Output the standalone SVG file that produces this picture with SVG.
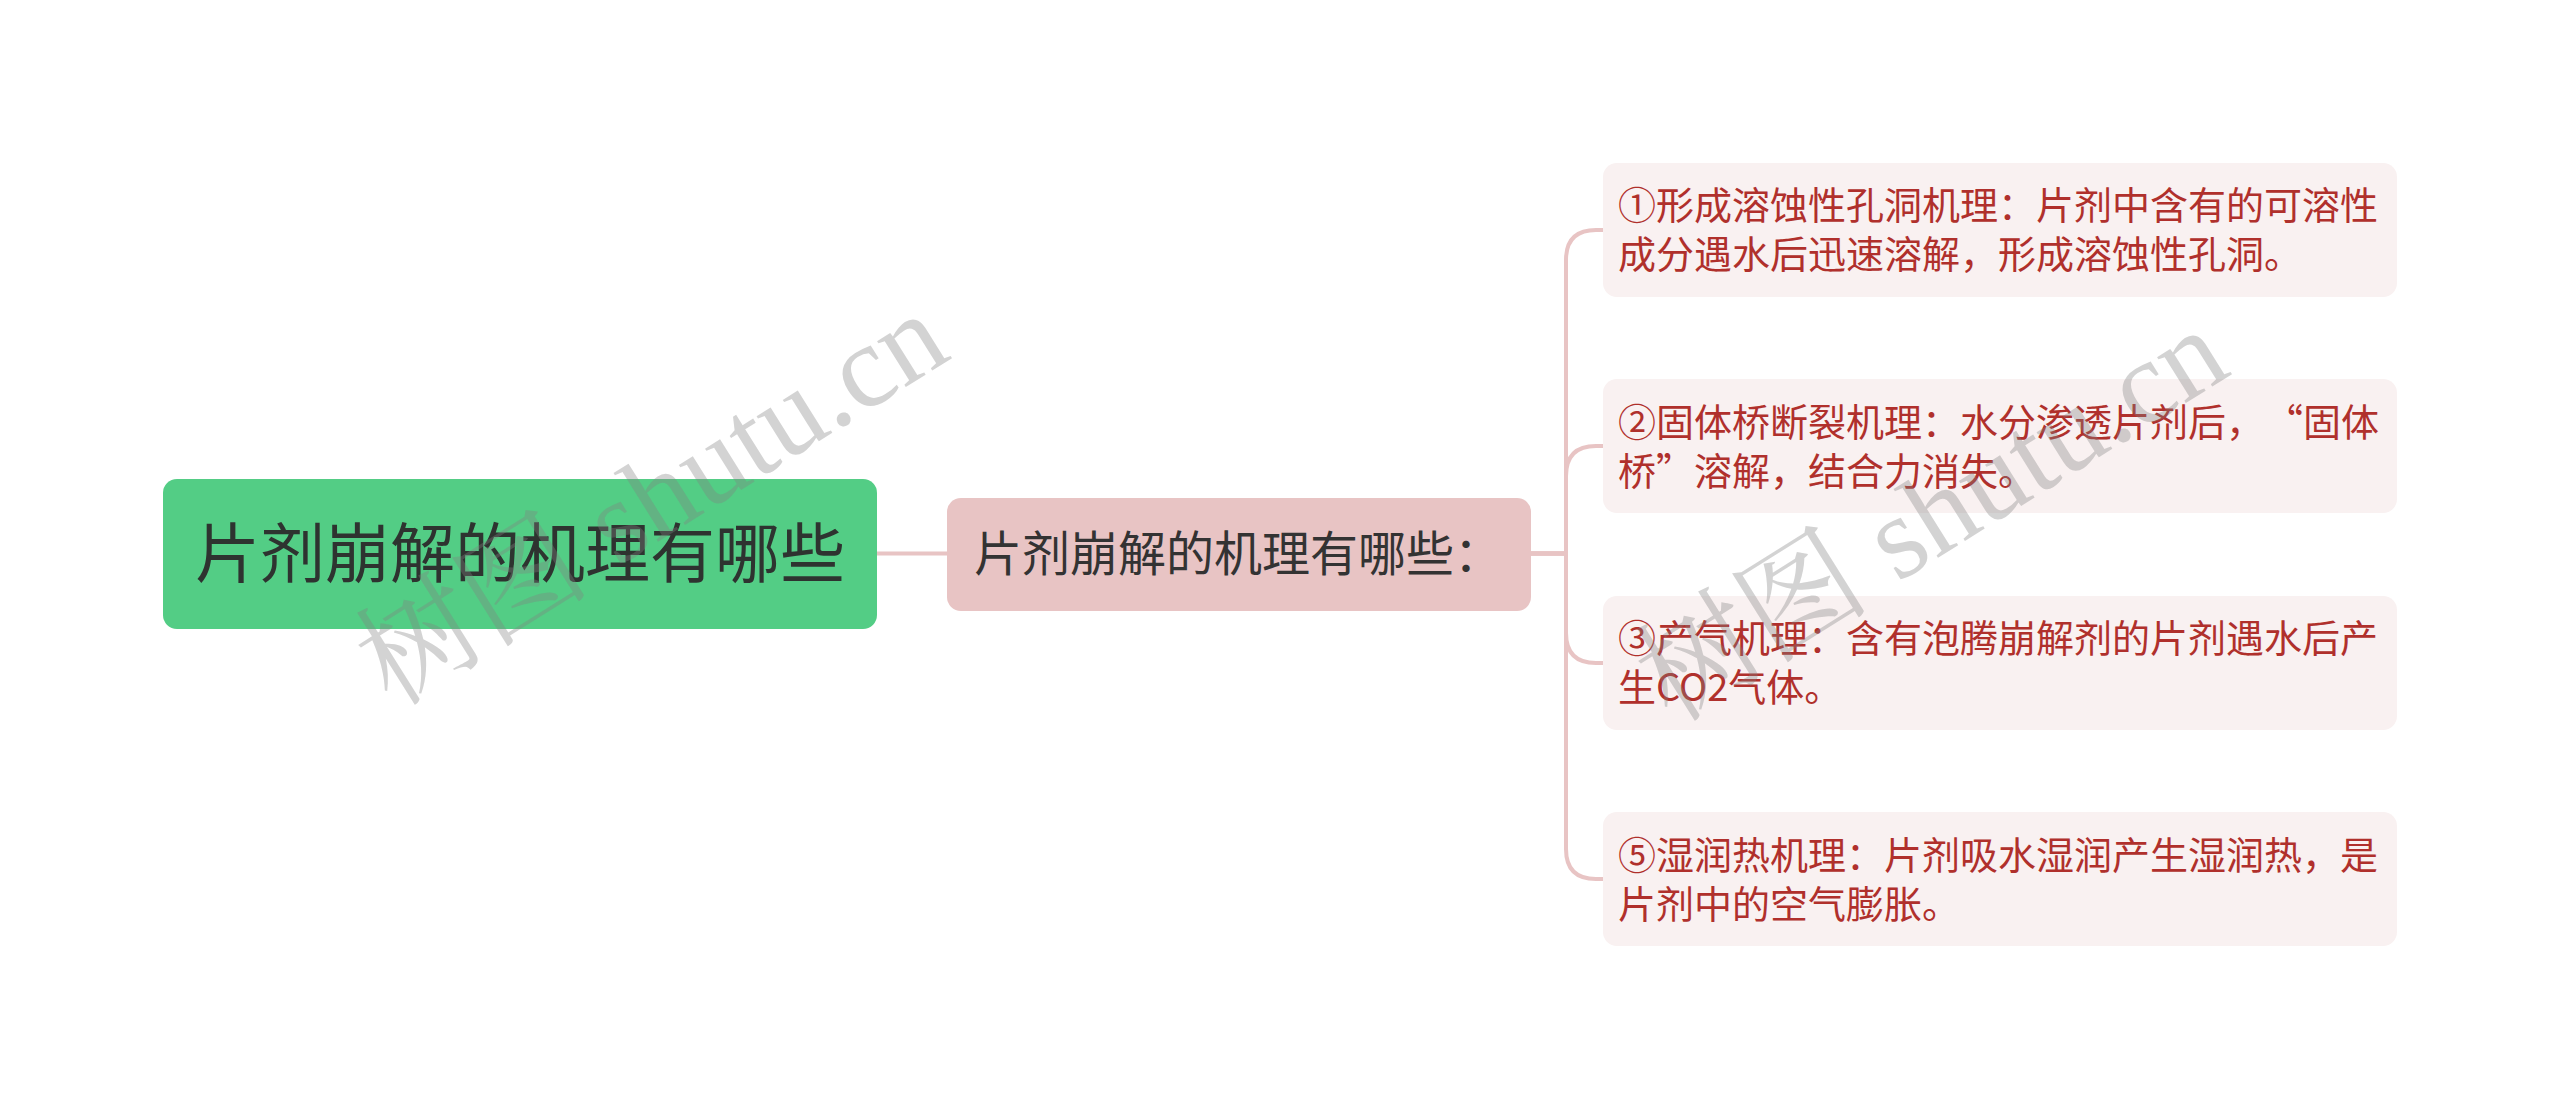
<svg xmlns="http://www.w3.org/2000/svg" width="2560" height="1109" viewBox="0 0 2560 1109">
<style>
.cjk{font-family:"Noto Sans CJK SC","Noto Sans",sans-serif;}
.root-t{font-size:65px;fill:#2e3330;}
.mid-t{font-size:48px;fill:#333333;}
.leaf-t{font-size:38px;fill:#b0302c;}
.leaf{fill:#f9f1f1;}
.conn{fill:none;stroke:#e8c4c4;stroke-width:4;}
.wm{font-family:"Liberation Serif","Noto Serif CJK SC","Noto Sans CJK SC",serif;font-size:118px;fill:#808080;fill-opacity:0.35;}
</style>
<rect width="2560" height="1109" fill="#ffffff"/>
<g id="connectors">
<path class="conn" d="M877,553.5 H947"/>
<path class="conn" d="M1531,553.5 H1566 V260 Q1566,230 1596,230 H1603"/>
<path class="conn" d="M1531,553.5 H1566 V476 Q1566,446 1596,446 H1603"/>
<path class="conn" d="M1531,553.5 H1566 V633 Q1566,663 1596,663 H1603"/>
<path class="conn" d="M1531,553.5 H1566 V849 Q1566,879 1596,879 H1603"/>
</g>
<g id="root">
<rect x="163" y="479" width="714" height="150" rx="14" fill="#53cd85"/>
<text class="cjk root-t" x="520" y="577" text-anchor="middle">片剂崩解的机理有哪些</text>
</g>
<g id="middle">
<rect x="947" y="498" width="584" height="113" rx="14" fill="#e8c4c4"/>
<text class="cjk mid-t" x="974" y="571">片剂崩解的机理有哪些：</text>
</g>
<g id="leaf1">
<rect class="leaf" x="1603" y="163" width="794" height="134" rx="14"/>
<text class="cjk leaf-t" x="1618" y="219">①形成溶蚀性孔洞机理：片剂中含有的可溶性</text>
<text class="cjk leaf-t" x="1618" y="268">成分遇水后迅速溶解，形成溶蚀性孔洞。</text>
</g>
<g id="leaf2">
<rect class="leaf" x="1603" y="379" width="794" height="134" rx="14"/>
<text class="cjk leaf-t" x="1618" y="436">②固体桥断裂机理：水分渗透片剂后，<tspan dx="20">“固体</tspan></text>
<text class="cjk leaf-t" x="1618" y="485">桥”溶解，结合力消失。</text>
</g>
<g id="leaf3">
<rect class="leaf" x="1603" y="596" width="794" height="134" rx="14"/>
<text class="cjk leaf-t" x="1618" y="652">③产气机理：含有泡腾崩解剂的片剂遇水后产</text>
<text class="cjk leaf-t" x="1618" y="701">生CO2气体。</text>
</g>
<g id="leaf4">
<rect class="leaf" x="1603" y="812" width="794" height="134" rx="14"/>
<text class="cjk leaf-t" x="1618" y="869">⑤湿润热机理：片剂吸水湿润产生湿润热，是</text>
<text class="cjk leaf-t" x="1618" y="918">片剂中的空气膨胀。</text>
</g>
<g id="watermarks">
<text class="wm" transform="translate(392,708) rotate(-32)">树图 shutu.cn</text>
<text class="wm" transform="translate(1672,724) rotate(-32)">树图 shutu.cn</text>
</g>
</svg>
